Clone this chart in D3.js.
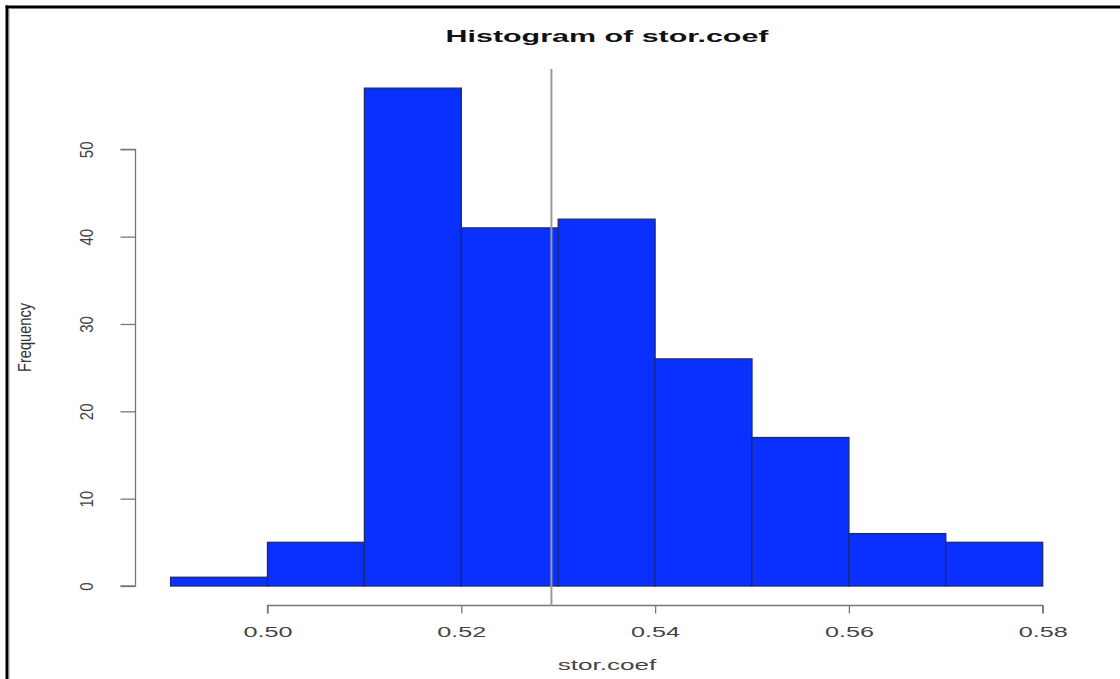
<!DOCTYPE html>
<html><head><meta charset="utf-8">
<script src="https://cdn.jsdelivr.net/npm/d3@7"></script>
<style>
html,body{margin:0;padding:0;background:#fff;}
svg{display:block;}
text{font-family:"Liberation Sans",Arial,Helvetica,sans-serif;}
</style></head>
<body>
<svg id="c" width="1120" height="679"></svg>
<script>
// ---- data ----
const binStarts = [0.49, 0.50, 0.51, 0.52, 0.53, 0.54, 0.55, 0.56, 0.57];
const binWidth = 0.01;
const counts = [1, 5, 57, 41, 42, 26, 17, 6, 5];
const xTicks = [0.50, 0.52, 0.54, 0.56, 0.58];
const yTicks = [0, 10, 20, 30, 40, 50];
const markerValue = 0.5293;
const markerTop = 59.2;
const titleText = "Histogram of stor.coef";
const xLabel = "stor.coef";
const yLabel = "Frequency";

const svg = d3.select("#c");
const x = d3.scaleLinear().domain([0.50, 0.58]).range([267.5, 1042.7]);
const y = d3.scaleLinear().domain([0, 50]).range([586, 149.3]);

// frame
svg.append("line").attr("x1",7).attr("x2",7).attr("y1",5.5).attr("y2",679).attr("stroke","#000").attr("stroke-width",3);
svg.append("line").attr("x1",5.5).attr("x2",1120).attr("y1",7).attr("y2",7).attr("stroke","#000").attr("stroke-width",3);
svg.append("line").attr("x1",9.5).attr("x2",9.5).attr("y1",8.5).attr("y2",679).attr("stroke","#ccc").attr("stroke-width",1);

// bars
svg.append("g").selectAll("rect").data(binStarts).join("rect")
  .attr("x", d => x(d))
  .attr("width", d => x(d + binWidth) - x(d))
  .attr("y", (d,i) => y(counts[i]))
  .attr("height", (d,i) => y(0) - y(counts[i]))
  .attr("fill", "#0a30ff")
  .attr("stroke", "#1b2a70")
  .attr("stroke-width", 1.3);

// x axis
const xAxisY = 605.5;
const gx = svg.append("g").attr("transform", `translate(0,${xAxisY})`)
  .call(d3.axisBottom(x).tickValues(xTicks).tickSize(8).tickFormat(d3.format(".2f")));
gx.select(".domain").attr("stroke","#777").attr("stroke-width",1.3).attr("d", `M${x(0.50)},8V0H${x(0.58)}V8`);
gx.selectAll(".tick line").attr("stroke","#777").attr("stroke-width",1.3);
gx.selectAll(".tick text")
  .attr("y", 0).attr("dy", 0)
  .attr("transform", "translate(0,31.5) scale(1.8,1)")
  .attr("font-size", 14).attr("fill", "#444")
  .attr("font-family", '"Liberation Sans",Arial,sans-serif');

// y axis
const yAxisX = 135.5;
const gy = svg.append("g").attr("transform", `translate(${yAxisX},0)`)
  .call(d3.axisLeft(y).tickValues(yTicks).tickSize(15).tickFormat(d3.format("d")));
gy.select(".domain").attr("stroke","#777").attr("stroke-width",1.3).attr("d", `M-15,${y(50)}H0V${y(0)}H-15`);
gy.selectAll(".tick line").attr("stroke","#777").attr("stroke-width",1.3);
gy.selectAll(".tick text")
  .attr("x", 0).attr("dy", 0)
  .attr("text-anchor", "middle")
  .attr("transform", "translate(-42.3,0) scale(1.2,1) rotate(-90)")
  .attr("font-size", 15).attr("fill", "#444")
  .attr("font-family", '"Liberation Sans",Arial,sans-serif');

// marker line
svg.append("line")
  .attr("x1", x(markerValue)).attr("x2", x(markerValue))
  .attr("y1", y(markerTop)).attr("y2", xAxisY)
  .attr("stroke", "#9a9a9a").attr("stroke-width", 2);

// title
svg.append("text").attr("transform", "translate(607,42) scale(1.76,1)")
  .attr("text-anchor","middle").attr("font-size",17.3).attr("font-weight","bold").attr("fill","#111")
  .text(titleText);

// x label
svg.append("text").attr("transform", "translate(607,670) scale(1.8,1)")
  .attr("text-anchor","middle").attr("font-size",14.5).attr("fill","#444")
  .text(xLabel);

// y label
svg.append("text").attr("transform", "translate(31,337.5) scale(1.3,1) rotate(-90)")
  .attr("text-anchor","middle").attr("font-size",14.6).attr("fill","#333")
  .text(yLabel);
</script>
</body></html>
